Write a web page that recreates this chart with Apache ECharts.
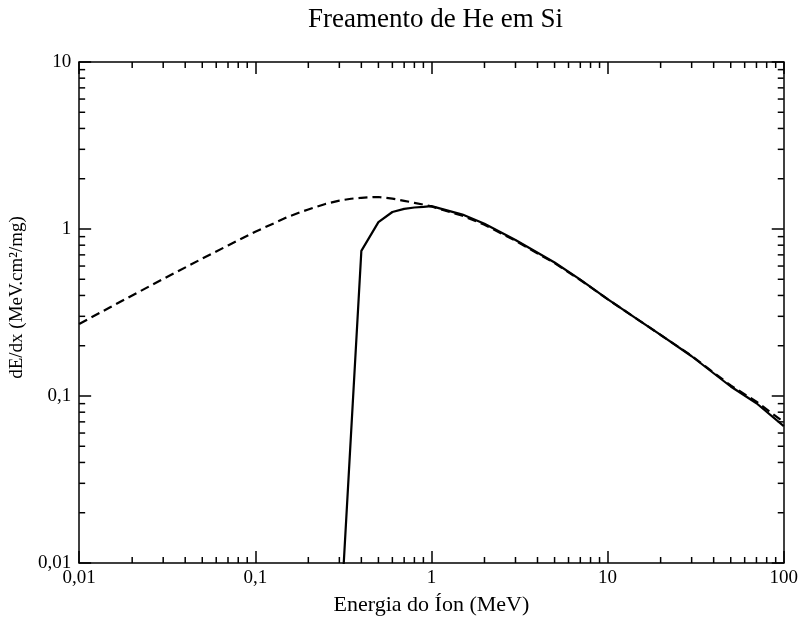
<!DOCTYPE html>
<html>
<head>
<meta charset="utf-8">
<script src="https://cdn.jsdelivr.net/npm/echarts@6/dist/echarts.min.js"></script>
<style>
  html, body { margin: 0; padding: 0; background: #fff; }
  #chart { width: 801px; height: 622px; }
</style>
</head>
<body>
<div id="chart"></div>
<script>
// Stopping power of He ions in Si (MeV.cm²/mg) versus ion energy (MeV)
const energyDashed = [0.01, 0.015, 0.02, 0.03, 0.05, 0.07, 0.1, 0.15, 0.18, 0.2, 0.25, 0.3, 0.35, 0.4, 0.47, 0.5, 0.6, 0.7, 0.8, 0.9, 1, 1.5, 2, 3, 5, 7, 10, 15, 20, 30, 50, 70, 100];
const stoppingDashed = [0.27, 0.34, 0.40, 0.502, 0.665, 0.797, 0.963, 1.17, 1.26, 1.309, 1.413, 1.479, 1.518, 1.538, 1.555, 1.554, 1.52, 1.475, 1.435, 1.40, 1.365, 1.20, 1.06, 0.85, 0.625, 0.495, 0.38, 0.285, 0.232, 0.174, 0.1156, 0.0925, 0.0697];

const energySolid = [0.3, 0.4, 0.5, 0.6, 0.7, 0.8, 0.9, 1, 1.5, 2, 3, 5, 7, 10, 15, 20, 30, 50, 70, 100];
const stoppingSolid = [0.0034, 0.74, 1.10, 1.264, 1.32, 1.345, 1.355, 1.37, 1.22, 1.075, 0.86, 0.63, 0.497, 0.38, 0.285, 0.232, 0.173, 0.114, 0.0905, 0.066];

const xMin = 0.01, xMax = 100;
const yMin = 0.01, yMax = 10;
const xTickLabels = { '0.01': '0,01', '0.1': '0,1', '1': '1', '10': '10', '100': '100' };
const yTickLabels = { '0.01': '0,01', '0.1': '0,1', '1': '1', '10': '10' };

// minor tick values (2..9 × 10^k) inside each decade
function minorValues(lo, hi) {
  const out = [];
  for (let d = lo; d < hi * 0.999; d *= 10) {
    for (let m = 2; m <= 9; m++) out.push(+(m * d).toPrecision(3));
  }
  return out;
}
const xMinor = minorValues(xMin, xMax);
const yMinor = minorValues(yMin, yMax);

const font = '"Liberation Serif", "DejaVu Serif", serif';
const fmtKey = v => String(+(+v).toPrecision(6));

const chart = echarts.init(document.getElementById('chart'), null, { renderer: 'canvas' });

const axisLine = { show: true, onZero: false, lineStyle: { color: '#000', width: 1.5 } };
const majorTick = { show: true, inside: true, length: 12, lineStyle: { color: '#000', width: 1.5 } };

const minorLen = 6;
function minorTickSeries(values, which) {
  return {
    type: 'custom',
    silent: true,
    xAxisIndex: 0,
    yAxisIndex: 0,
    clip: false,
    z: 5,
    data: values.map(v => [v]),
    renderItem: function (params, api) {
      const v = api.value(0);
      let p1, p2;
      if (which === 'bottom' || which === 'top') {
        const yv = which === 'bottom' ? yMin : yMax;
        const p = api.coord([v, yv]);
        const dir = which === 'bottom' ? -1 : 1;
        p1 = p; p2 = [p[0], p[1] + dir * minorLen];
      } else {
        const xv = which === 'left' ? xMin : xMax;
        const p = api.coord([xv, v]);
        const dir = which === 'left' ? 1 : -1;
        p1 = p; p2 = [p[0] + dir * minorLen, p[1]];
      }
      return {
        type: 'line',
        shape: { x1: p1[0], y1: p1[1], x2: p2[0], y2: p2[1] },
        style: { stroke: '#000', lineWidth: 1.5 }
      };
    }
  };
}

chart.setOption({
  backgroundColor: '#fff',
  animation: false,
  title: {
    text: 'Freamento de He em Si',
    left: 303,
    top: 1,
    textStyle: { fontFamily: font, fontSize: 27, fontWeight: 'normal', color: '#000' }
  },
  grid: { left: 76, right: 14, top: 62, bottom: 59, containLabel: false },
  xAxis: [
    {
      type: 'log', logBase: 10, min: xMin, max: xMax, position: 'bottom',
      name: 'Energia do Íon (MeV)', nameLocation: 'middle', nameGap: 31,
      nameTextStyle: { fontFamily: font, fontSize: 22, color: '#000' },
      axisLine: axisLine, axisTick: majorTick, splitLine: { show: false },
      axisLabel: {
        show: true, margin: 6, color: '#000', fontFamily: font, fontSize: 19,
        showMinLabel: true, showMaxLabel: true,
        formatter: v => xTickLabels[fmtKey(v)] || ''
      }
    },
    {
      type: 'log', logBase: 10, min: xMin, max: xMax, position: 'top',
      axisLine: axisLine, axisTick: majorTick, axisLabel: { show: false }, splitLine: { show: false }
    }
  ],
  yAxis: [
    {
      type: 'log', logBase: 10, min: yMin, max: yMax, position: 'left',
      name: 'dE/dx (MeV.cm²/mg)', nameLocation: 'middle', nameGap: 43,
      nameTextStyle: { fontFamily: font, fontSize: 19, color: '#000', padding: [0, 0, 0, 30] },
      axisLine: axisLine, axisTick: majorTick, splitLine: { show: false },
      axisLabel: {
        show: true, margin: 8, color: '#000', fontFamily: font, fontSize: 19,
        showMinLabel: true, showMaxLabel: true,
        formatter: v => yTickLabels[fmtKey(v)] || ''
      }
    },
    {
      type: 'log', logBase: 10, min: yMin, max: yMax, position: 'right',
      axisLine: axisLine, axisTick: majorTick, axisLabel: { show: false }, splitLine: { show: false }
    }
  ],
  series: [
    {
      name: 'dashed', type: 'line', xAxisIndex: 0, yAxisIndex: 0,
      data: energyDashed.map((e, i) => [e, stoppingDashed[i]]),
      showSymbol: false, symbol: 'none', smooth: false, clip: true,
      lineStyle: { color: '#000', width: 2.2, type: [9, 5] }, z: 3
    },
    {
      name: 'solid', type: 'line', xAxisIndex: 0, yAxisIndex: 0,
      data: energySolid.map((e, i) => [e, stoppingSolid[i]]),
      showSymbol: false, symbol: 'none', smooth: false, clip: true,
      lineStyle: { color: '#000', width: 2.2, type: 'solid' }, z: 4
    },
    minorTickSeries(xMinor, 'bottom'),
    minorTickSeries(xMinor, 'top'),
    minorTickSeries(yMinor, 'left'),
    minorTickSeries(yMinor, 'right')
  ]
});
</script>
</body>
</html>
